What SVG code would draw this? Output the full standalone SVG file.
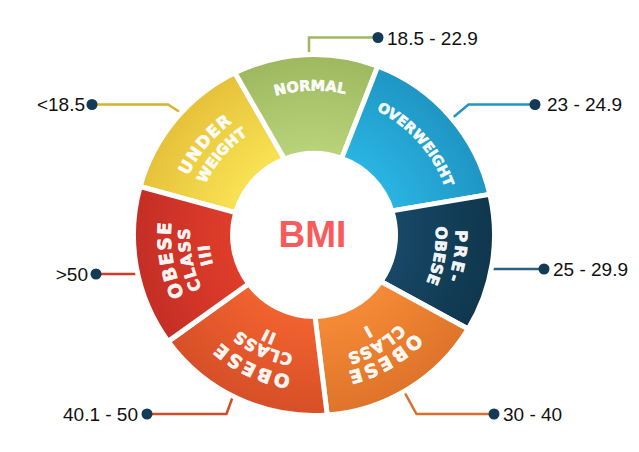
<svg xmlns="http://www.w3.org/2000/svg" xmlns:xlink="http://www.w3.org/1999/xlink" width="639" height="452" viewBox="0 0 639 452">
<style>
.seg{stroke:#fff;stroke-width:5;stroke-linejoin:miter}
.lbl{font-family:"DejaVu Sans","Liberation Sans",sans-serif;font-weight:bold;fill:#fff;fill-opacity:0.94;stroke:#fff;stroke-opacity:0.94;stroke-width:0.7;stroke-linejoin:round}
.rng{font-family:"Liberation Sans",Arial,sans-serif;font-size:19px;fill:#111}
.con{fill:none;stroke-width:2.5}
.dot{fill:#143a55}
</style>
<defs>
<radialGradient id="gUW" gradientUnits="userSpaceOnUse" cx="314" cy="235" r="180.5"><stop offset="0.46" stop-color="#f8e253"/><stop offset="1" stop-color="#e6c13a"/></radialGradient>
<radialGradient id="gN" gradientUnits="userSpaceOnUse" cx="314" cy="235" r="180.5"><stop offset="0.46" stop-color="#b8d37a"/><stop offset="1" stop-color="#9db85e"/></radialGradient>
<radialGradient id="gOW" gradientUnits="userSpaceOnUse" cx="314" cy="235" r="180.5"><stop offset="0.46" stop-color="#2ab4e2"/><stop offset="1" stop-color="#1f95c3"/></radialGradient>
<radialGradient id="gPO" gradientUnits="userSpaceOnUse" cx="314" cy="235" r="180.5"><stop offset="0.46" stop-color="#174866"/><stop offset="1" stop-color="#0f364d"/></radialGradient>
<radialGradient id="gO1" gradientUnits="userSpaceOnUse" cx="314" cy="235" r="180.5"><stop offset="0.46" stop-color="#f58a36"/><stop offset="1" stop-color="#de742a"/></radialGradient>
<radialGradient id="gO2" gradientUnits="userSpaceOnUse" cx="314" cy="235" r="180.5"><stop offset="0.46" stop-color="#f2622f"/><stop offset="1" stop-color="#d64f28"/></radialGradient>
<radialGradient id="gO3" gradientUnits="userSpaceOnUse" cx="314" cy="235" r="180.5"><stop offset="0.46" stop-color="#df3d2a"/><stop offset="1" stop-color="#c42e26"/></radialGradient>
<path id="p1" d="M218.3,126.8 A144.5,144.5 0 0 1 403.9,121.9"/>
<path id="p2" d="M334.1,97 A139.5,139.5 0 0 1 453.4,230.9"/>
<path id="p3" d="M434.9,161.5 A141.5,141.5 0 0 1 407.4,341.3"/>
<path id="p4" d="M418.9,173.2 A121.8,121.8 0 0 1 393.1,327.6"/>
<path id="p5" d="M445.6,284.2 A140.5,140.5 0 0 1 288.4,373.2"/>
<path id="p6" d="M429.3,278.3 A123.2,123.2 0 0 1 291.3,356.1"/>
<path id="p7" d="M412.4,272.2 A105.2,105.2 0 0 1 294.5,338.4"/>
<path id="p8" d="M349.4,372.9 A142.4,142.4 0 0 1 184.3,293.8"/>
<path id="p9" d="M347,351.6 A121.2,121.2 0 0 1 204.9,287.7"/>
<path id="p10" d="M342.8,336.7 A105.7,105.7 0 0 1 218.8,281"/>
<path id="p11" d="M221.5,344.1 A143,143 0 0 1 190.5,162.9"/>
<path id="p12" d="M235.8,331.5 A124.2,124.2 0 0 1 205.4,174.8"/>
<path id="p13" d="M247.1,315.9 A105,105 0 0 1 222.7,183.1"/>
<path id="p14" d="M175,235.5 A139,139 0 0 1 289.4,98.2"/>
<path id="p15" d="M194.2,233.3 A119.8,119.8 0 0 1 294.8,116.7"/>
</defs>
<rect width="639" height="452" fill="#fff"/>

<g id="connectors">
<polyline class="con" stroke="#d9b22e" points="182,113.5 168,104.5 92,104.5"/>
<circle class="dot" cx="92" cy="104.5" r="5.5"/>
<polyline class="con" stroke="#9fb85e" points="309,57 309,37.5 378,37.5"/>
<circle class="dot" cx="378" cy="37.5" r="5.5"/>
<polyline class="con" stroke="#2196c4" points="450,120 468.5,104.5 535,104.5"/>
<circle class="dot" cx="535" cy="104.5" r="5.5"/>
<polyline class="con" stroke="#2f5f80" points="491,269 544,269"/>
<circle class="dot" cx="544" cy="269" r="5.5"/>
<polyline class="con" stroke="#d8702c" points="403.5,390.5 416.5,414 494,414"/>
<circle class="dot" cx="494" cy="414" r="5.5"/>
<polyline class="con" stroke="#d04e28" points="233,396 226.5,414 147,414"/>
<circle class="dot" cx="147" cy="414" r="5.5"/>
<polyline class="con" stroke="#d33a28" points="140,274 96,274"/>
<circle class="dot" cx="96" cy="274" r="5.5"/>
</g>

<g id="underweight">
<path class="seg" fill="url(#gUW)" d="M235.6,212.7 L140.1,186.5 A180.5,180.5 0 0 1 234.9,72.8 L284.5,159 A81.5,81.5 0 0 0 235.6,212.7 Z"/>
<text class="lbl" font-size="16.5" letter-spacing="1.2"><textPath href="#p14" xlink:href="#p14" startOffset="50%" text-anchor="middle">UNDER</textPath></text>
<text class="lbl" font-size="14.5"><textPath href="#p15" xlink:href="#p15" startOffset="50%" text-anchor="middle">WEIGHT</textPath></text>
<text class="rng" x="85" y="111" text-anchor="end">&lt;18.5</text>
</g>

<g id="normal">
<path class="seg" fill="url(#gN)" d="M284.5,159 L234.9,72.8 A180.5,180.5 0 0 1 377.8,66.2 L341.7,158.4 A81.5,81.5 0 0 0 284.5,159 Z"/>
<text class="lbl" font-size="14.5"><textPath href="#p1" xlink:href="#p1" startOffset="50%" text-anchor="middle">NORMAL</textPath></text>
<text class="rng" x="387" y="44.5">18.5 - 22.9</text>
</g>

<g id="overweight">
<path class="seg" fill="url(#gOW)" d="M341.7,158.4 L377.8,66.2 A180.5,180.5 0 0 1 489.9,194.4 L391.9,210.9 A81.5,81.5 0 0 0 341.7,158.4 Z"/>
<text class="lbl" font-size="14"><textPath href="#p2" xlink:href="#p2" startOffset="50%" text-anchor="middle">OVERWEIGHT</textPath></text>
<text class="rng" x="547" y="111">23 - 24.9</text>
</g>

<g id="pre-obese">
<path class="seg" fill="url(#gPO)" d="M391.9,210.9 L489.9,194.4 A180.5,180.5 0 0 1 468.1,329 L380.9,281.5 A81.5,81.5 0 0 0 391.9,210.9 Z"/>
<text class="lbl" font-size="16.5" letter-spacing="2.5"><textPath href="#p3" xlink:href="#p3" startOffset="50%" text-anchor="middle">PRE-</textPath></text>
<text class="lbl" font-size="15.5"><textPath href="#p4" xlink:href="#p4" startOffset="50%" text-anchor="middle">OBESE</textPath></text>
<text class="rng" x="553" y="276">25 - 29.9</text>
</g>

<g id="obese-class-1">
<path class="seg" fill="url(#gO1)" d="M380.9,281.5 L468.1,329 A180.5,180.5 0 0 1 327.2,415 L315,316.5 A81.5,81.5 0 0 0 380.9,281.5 Z"/>
<text class="lbl" font-size="18.5" letter-spacing="2.5"><textPath href="#p5" xlink:href="#p5" startOffset="50%" text-anchor="middle">OBESE</textPath></text>
<text class="lbl" font-size="16" letter-spacing="1"><textPath href="#p6" xlink:href="#p6" startOffset="50%" text-anchor="middle">CLASS</textPath></text>
<text class="lbl" font-size="16"><textPath href="#p7" xlink:href="#p7" startOffset="50%" text-anchor="middle">I</textPath></text>
<text class="rng" x="503" y="421">30 - 40</text>
</g>

<g id="obese-class-2">
<path class="seg" fill="url(#gO2)" d="M315,316.5 L327.2,415 A180.5,180.5 0 0 1 168.2,341.4 L248.7,283.7 A81.5,81.5 0 0 0 315,316.5 Z"/>
<text class="lbl" font-size="18.5" letter-spacing="2.5"><textPath href="#p8" xlink:href="#p8" startOffset="50%" text-anchor="middle">OBESE</textPath></text>
<text class="lbl" font-size="16" letter-spacing="0.8"><textPath href="#p9" xlink:href="#p9" startOffset="50%" text-anchor="middle">CLASS</textPath></text>
<text class="lbl" font-size="16" letter-spacing="1"><textPath href="#p10" xlink:href="#p10" startOffset="50%" text-anchor="middle">II</textPath></text>
<text class="rng" x="138" y="421" text-anchor="end">40.1 - 50</text>
</g>

<g id="obese-class-3">
<path class="seg" fill="url(#gO3)" d="M248.7,283.7 L168.2,341.4 A180.5,180.5 0 0 1 140.1,186.5 L235.6,212.7 A81.5,81.5 0 0 0 248.7,283.7 Z"/>
<text class="lbl" font-size="18.5" letter-spacing="1.6"><textPath href="#p11" xlink:href="#p11" startOffset="50%" text-anchor="middle">OBESE</textPath></text>
<text class="lbl" font-size="16" letter-spacing="1.3"><textPath href="#p12" xlink:href="#p12" startOffset="50%" text-anchor="middle">CLASS</textPath></text>
<text class="lbl" font-size="16" letter-spacing="1"><textPath href="#p13" xlink:href="#p13" startOffset="50%" text-anchor="middle">III</textPath></text>
<text class="rng" x="88" y="281" text-anchor="end">&gt;50</text>
</g>

<g id="bmi">
<text x="312.5" y="247" text-anchor="middle" font-family="'Liberation Sans',Arial,sans-serif" font-weight="bold" font-size="37" fill="#f75c5c">BMI</text>
</g>
</svg>
